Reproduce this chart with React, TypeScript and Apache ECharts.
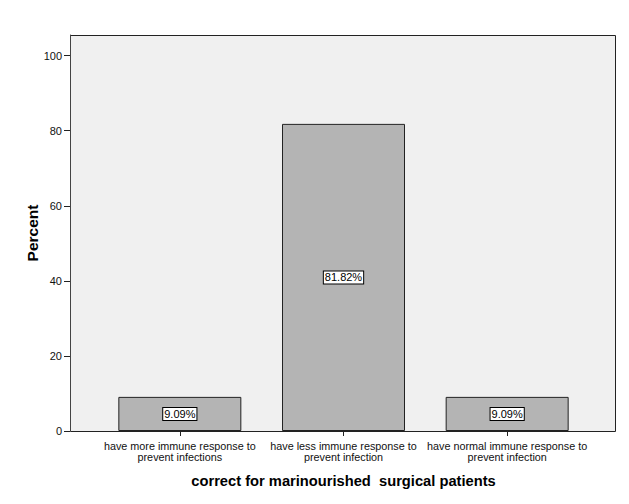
import React, { useEffect, useRef } from "react";
import * as echarts from "echarts";

const categories = [
  "have more immune response to\nprevent infections",
  "have less immune response to\nprevent infection",
  "have normal immune response to\nprevent infection",
];
const percentValues = [9.09, 81.82, 9.09];
const yTickValues = [0, 20, 40, 60, 80, 100];
const xAxisTitle = "correct for marinourished  surgical patients";
const yAxisTitle = "Percent";

const FONT = "Liberation Sans, Arial, sans-serif";

export default function App() {
  const ref = useRef<HTMLDivElement>(null);
  useEffect(() => {
    document.body.style.margin = "0";
    const chart = echarts.init(ref.current!, null, { renderer: "svg" });
    chart.setOption({
      animation: false,
      backgroundColor: "#ffffff",
      textStyle: { fontFamily: FONT },
      graphic: [
        {
          type: "rect",
          z: -10,
          shape: { x: 70.5, y: 35.5, width: 545, height: 396 },
          style: { fill: "#F0F0F0", stroke: "#222222", lineWidth: 1 },
        },
      ],
      grid: { left: 98, right: 40, top: 35, bottom: 73 },
      xAxis: {
        type: "category",
        data: categories,
        name: xAxisTitle,
        nameLocation: "middle",
        nameGap: 42,
        nameMoveOverlap: false,
        nameTextStyle: { fontSize: 14.7, fontWeight: "bold", color: "#000", fontFamily: FONT },
        axisLine: { show: false },
        axisTick: { show: true, alignWithLabel: true, length: 5, lineStyle: { color: "#222" } },
        axisLabel: {
          interval: 0,
          margin: 9,
          fontSize: 10.8,
          lineHeight: 11,
          color: "#111",
          fontFamily: FONT,
        },
      },
      yAxis: {
        type: "value",
        min: 0,
        max: 105.5,
        offset: 28,
        name: yAxisTitle,
        nameLocation: "middle",
        nameGap: 30,
        nameMoveOverlap: false,
        nameTextStyle: { fontSize: 15.5, fontWeight: "bold", color: "#000", fontFamily: FONT },
        axisLine: { show: true, lineStyle: { color: "#444" } },
        axisTick: { show: true, length: 6, customValues: yTickValues, lineStyle: { color: "#222" } },
        axisLabel: { margin: 8, fontSize: 11, color: "#111", customValues: yTickValues, fontFamily: FONT },
        splitLine: { show: false },
      },
      series: [
        {
          type: "bar",
          data: percentValues,
          barWidth: 123,
          itemStyle: { color: "#B4B4B4", borderColor: "#222", borderWidth: 1 },
          label: {
            show: true,
            position: "inside",
            formatter: (p: any) => p.value.toFixed(2) + "%",
            backgroundColor: "#ffffff",
            borderColor: "#000",
            borderWidth: 1,
            padding: [1, 1, 0, 1],
            color: "#000",
            fontSize: 11,
            fontFamily: FONT,
          },
        },
      ],
    });
    return () => chart.dispose();
  }, []);
  return <div ref={ref} style={{ width: 629, height: 504 }} />;
}
